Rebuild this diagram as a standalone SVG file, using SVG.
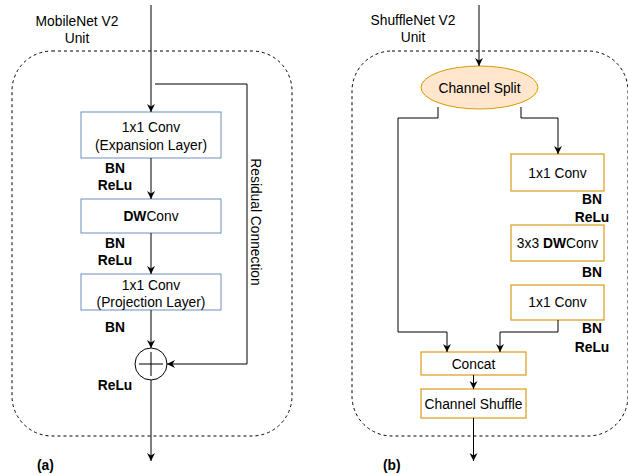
<svg xmlns="http://www.w3.org/2000/svg" width="628" height="475" viewBox="0 0 628 475">
<style>
text{font-family:"Liberation Sans",Arial,sans-serif;font-size:13.8px;fill:#000}
.c{text-anchor:middle}
.b{font-weight:bold}
.panel{fill:none;stroke:#000;stroke-width:1;stroke-dasharray:3,3}
.mb{fill:#fff;stroke:#6c8ebf;stroke-width:1}
.sb{fill:#fff;stroke:#dca429;stroke-width:1.3}
.ln{fill:none;stroke:#000;stroke-width:1}
</style>
<defs>
<marker id="ah" markerWidth="10" markerHeight="10" refX="8" refY="5" orient="auto" markerUnits="userSpaceOnUse">
<path d="M0,1 L8,5 L0,9 L2.5,5 Z" fill="#000"/>
</marker>
</defs>
<rect class="panel" x="12" y="51" width="280" height="385" rx="40" ry="40"/>
<rect class="panel" x="352" y="51" width="276" height="385" rx="40" ry="40"/>
<text class="c" x="77" y="26">MobileNet V2</text>
<text class="c" x="77" y="43">Unit</text>
<text class="c" x="413" y="25">ShuffleNet V2</text>
<text class="c" x="413" y="42">Unit</text>
<text class="b" x="37" y="470">(a)</text>
<text class="b" x="383" y="470">(b)</text>
<g id="expansion"><rect class="mb" x="81" y="112" width="140" height="46"/><text class="c" x="151" y="132">1x1 Conv</text><text class="c" x="151" y="150">(Expansion Layer)</text></g>
<g id="dwconv"><rect class="mb" x="81" y="199" width="140" height="34"/><text class="c" x="151" y="221"><tspan class="b">DW</tspan>Conv</text></g>
<g id="projection"><rect class="mb" x="81" y="274" width="140" height="36"/><text class="c" x="151" y="290">1x1 Conv</text><text class="c" x="151" y="307">(Projection Layer)</text></g>
<g id="add"><circle cx="151" cy="364" r="16" fill="#fff" stroke="#000" stroke-width="1"/><path d="M139,364 H163 M151,352 V376" stroke="#000" stroke-width="1"/></g>
<g id="labels-a">
<text class="c b" x="115" y="173">BN</text><text class="c b" x="115" y="190">ReLu</text>
<text class="c b" x="115" y="248">BN</text><text class="c b" x="115" y="265">ReLu</text>
<text class="c b" x="115" y="332">BN</text>
<text class="c b" x="115" y="390">ReLu</text>
<text class="c" x="0" y="0" transform="translate(251,222) rotate(90)">Residual Connection</text>
</g>
<g id="split"><ellipse cx="479.5" cy="87.5" rx="58.5" ry="21.5" fill="#ffe6cc" stroke="#d79b00" stroke-width="1"/><text class="c" x="479.5" y="92.5">Channel Split</text></g>
<g id="conv1"><rect class="sb" x="511" y="154" width="93" height="37"/><text class="c" x="557.5" y="177.5">1x1 Conv</text></g>
<g id="dw3"><rect class="sb" x="511" y="225" width="93" height="36"/><text class="c" x="557.5" y="248">3x3 <tspan class="b">DW</tspan>Conv</text></g>
<g id="conv2"><rect class="sb" x="511" y="285" width="93" height="35"/><text class="c" x="557.5" y="307">1x1 Conv</text></g>
<g id="concat"><rect class="sb" x="421" y="352" width="105" height="23"/><text class="c" x="473.5" y="368.5">Concat</text></g>
<g id="shuffle"><rect class="sb" x="421" y="389" width="105" height="29"/><text class="c" x="473.5" y="408.5">Channel Shuffle</text></g>
<g id="labels-b">
<text class="c b" x="592" y="204">BN</text><text class="c b" x="592" y="222">ReLu</text>
<text class="c b" x="592" y="277">BN</text>
<text class="c b" x="592" y="333">BN</text><text class="c b" x="592" y="352">ReLu</text>
</g>
<g id="connectors">
<path class="ln" d="M151,5 V112" marker-end="url(#ah)"/>
<path class="ln" d="M151,158 V199" marker-end="url(#ah)"/>
<path class="ln" d="M151,233 V274" marker-end="url(#ah)"/>
<path class="ln" d="M151,310 V348" marker-end="url(#ah)"/>
<path class="ln" d="M155,84 H247 V364 H167" marker-end="url(#ah)"/>
<path class="ln" d="M151,380 V461" stroke-width="2" marker-end="url(#ah)"/>
<path class="ln" d="M479,5 V66" marker-end="url(#ah)"/>
<path class="ln" d="M438,107 V118 H398 V332 H447 V352" marker-end="url(#ah)"/>
<path class="ln" d="M521,107 V118 H558 V154" marker-end="url(#ah)"/>
<path class="ln" d="M558,320 V332 H500 V352" marker-end="url(#ah)"/>
<path class="ln" d="M473.5,375 V389" marker-end="url(#ah)"/>
<path class="ln" d="M473.5,418 V461" marker-end="url(#ah)"/>
</g>
</svg>
